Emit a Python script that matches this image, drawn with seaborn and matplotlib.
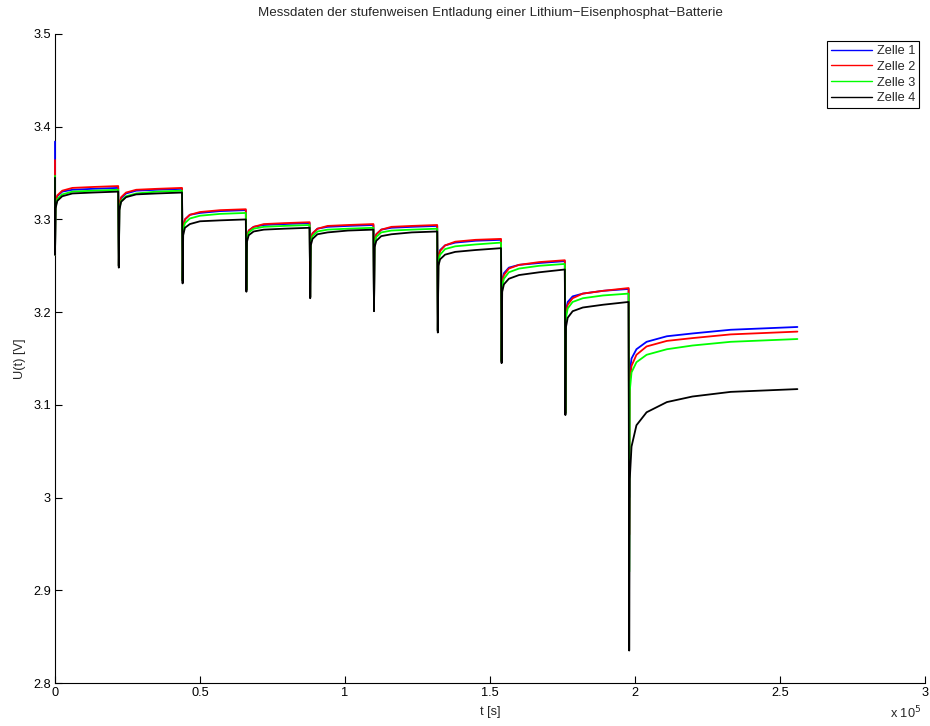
import numpy as np
import pandas as pd
import matplotlib
matplotlib.use('Agg')
import matplotlib.pyplot as plt
from matplotlib.ticker import FuncFormatter
import seaborn as sns

# Stufenstarts und Messzeitpunkte innerhalb einer Stufe (s)
step_starts = [0, 22000, 44000, 66000, 88000, 110000, 132000, 154000, 176000, 198000]
offsets = [0, 200, 800, 2500, 6000, 13000, 21800]
offsets_last = [0, 200, 800, 2500, 6000, 13000, 21800, 35000, 58000]

cells = ['Zelle 1', 'Zelle 2', 'Zelle 3', 'Zelle 4']
colors = ['#0000ff', '#ff0000', '#00ff00', '#000000']

# Startwert bei t = 0
u_start = [3.384, 3.364, 3.347, 3.345]

# Spannungen je Stufe (Einbruch, dann Erholung)
u_zelle1 = [
    [3.262, 3.317, 3.325, 3.330, 3.332, 3.333, 3.334],
    [3.250, 3.315, 3.323, 3.328, 3.331, 3.332, 3.333],
    [3.234, 3.292, 3.300, 3.305, 3.307, 3.309, 3.310],
    [3.224, 3.281, 3.288, 3.292, 3.294, 3.295, 3.296],
    [3.216, 3.278, 3.285, 3.290, 3.292, 3.293, 3.294],
    [3.203, 3.277, 3.284, 3.289, 3.291, 3.292, 3.293],
    [3.180, 3.260, 3.267, 3.272, 3.275, 3.277, 3.278],
    [3.147, 3.234, 3.242, 3.248, 3.251, 3.253, 3.255],
    [3.091, 3.202, 3.211, 3.217, 3.220, 3.223, 3.225],
    [3.000, 3.135, 3.150, 3.160, 3.168, 3.174, 3.177, 3.181, 3.184],
]
u_zelle2 = [
    [3.262, 3.318, 3.326, 3.331, 3.334, 3.335, 3.336],
    [3.250, 3.316, 3.324, 3.329, 3.332, 3.333, 3.334],
    [3.234, 3.292, 3.300, 3.305, 3.308, 3.310, 3.311],
    [3.224, 3.281, 3.288, 3.292, 3.295, 3.296, 3.297],
    [3.216, 3.278, 3.285, 3.290, 3.293, 3.294, 3.295],
    [3.203, 3.277, 3.284, 3.289, 3.292, 3.293, 3.294],
    [3.180, 3.259, 3.266, 3.272, 3.276, 3.278, 3.279],
    [3.147, 3.232, 3.240, 3.247, 3.251, 3.254, 3.256],
    [3.091, 3.198, 3.208, 3.215, 3.220, 3.223, 3.226],
    [2.960, 3.125, 3.142, 3.154, 3.163, 3.169, 3.172, 3.176, 3.179],
]
u_zelle3 = [
    [3.262, 3.314, 3.322, 3.327, 3.330, 3.331, 3.332],
    [3.250, 3.312, 3.320, 3.325, 3.328, 3.330, 3.331],
    [3.234, 3.288, 3.296, 3.301, 3.304, 3.306, 3.307],
    [3.224, 3.279, 3.286, 3.290, 3.292, 3.293, 3.294],
    [3.216, 3.275, 3.282, 3.287, 3.289, 3.290, 3.291],
    [3.203, 3.274, 3.281, 3.286, 3.288, 3.289, 3.290],
    [3.180, 3.255, 3.262, 3.268, 3.271, 3.273, 3.275],
    [3.147, 3.228, 3.236, 3.243, 3.247, 3.250, 3.252],
    [3.091, 3.194, 3.204, 3.211, 3.215, 3.218, 3.220],
    [2.920, 3.115, 3.135, 3.146, 3.154, 3.160, 3.164, 3.168, 3.171],
]
u_zelle4 = [
    [3.262, 3.312, 3.320, 3.325, 3.328, 3.329, 3.330],
    [3.248, 3.310, 3.319, 3.324, 3.327, 3.328, 3.329],
    [3.231, 3.283, 3.291, 3.295, 3.298, 3.299, 3.300],
    [3.222, 3.276, 3.283, 3.287, 3.289, 3.290, 3.291],
    [3.215, 3.272, 3.279, 3.284, 3.286, 3.288, 3.289],
    [3.201, 3.270, 3.277, 3.282, 3.284, 3.286, 3.287],
    [3.178, 3.250, 3.257, 3.262, 3.265, 3.267, 3.269],
    [3.145, 3.222, 3.230, 3.236, 3.240, 3.243, 3.246],
    [3.089, 3.184, 3.194, 3.201, 3.205, 3.208, 3.211],
    [2.835, 3.020, 3.055, 3.078, 3.092, 3.103, 3.109, 3.114, 3.117],
]
u_all = [u_zelle1, u_zelle2, u_zelle3, u_zelle4]

rows = []
for name, u0, segs in zip(cells, u_start, u_all):
    rows.append((name, 0, u0))
    for k, start in enumerate(step_starts):
        offs = offsets_last if k == len(step_starts) - 1 else offsets
        for o, u in zip(offs, segs[k]):
            rows.append((name, start + o, u))
df = pd.DataFrame(rows, columns=['Zelle', 't', 'U'])

sns.set_style('white')
plt.rcParams['font.family'] = ['Liberation Sans', 'DejaVu Sans']
fs = 9.2

fig = plt.figure(figsize=(9.3, 7.26), dpi=100)
ax = fig.add_axes([55 / 930, 1 - 683 / 726, 870 / 930, 649 / 726])

sns.lineplot(data=df, x='t', y='U', hue='Zelle', palette=colors,
             estimator=None, sort=False, linewidth=1.3, ax=ax)
for line in ax.get_lines():
    line.set_zorder(3)
    line.set_clip_on(False)

ax.set_xlim(0, 300000)
ax.set_ylim(2.8, 3.5)
ax.set_xticks([0, 50000, 100000, 150000, 200000, 250000, 300000])
ax.set_yticks([2.8, 2.9, 3.0, 3.1, 3.2, 3.3, 3.4, 3.5])
ax.xaxis.set_major_formatter(FuncFormatter(lambda v, p: '%g' % (v / 1e5)))
ax.yaxis.set_major_formatter(FuncFormatter(lambda v, p: '%g' % round(v, 1)))
ax.tick_params(direction='in', length=5, width=0.8, labelsize=fs,
               bottom=True, left=True, colors='black', pad=3)
for s in ['top', 'right']:
    ax.spines[s].set_visible(False)
for s in ['left', 'bottom']:
    ax.spines[s].set_color('black')
    ax.spines[s].set_linewidth(0.8)
    ax.spines[s].set_zorder(1)

ax.set_title('Messdaten der stufenweisen Entladung einer Lithium\u2212Eisenphosphat\u2212Batterie',
             fontsize=9.6, pad=13)
ax.set_xlabel('t [s]', fontsize=fs, labelpad=5)
ax.set_ylabel('U(t) [V]', fontsize=fs, labelpad=5)
fig.text(921 / 930, 1 - 713 / 726, 'x 10$^5$', fontsize=fs, ha='right', va='center')

leg = ax.legend(loc='upper right', bbox_to_anchor=(0.993, 0.989), fontsize=fs,
                frameon=True, fancybox=False, framealpha=1, edgecolor='black',
                handlelength=3.2, handletextpad=0.4, borderpad=0.3, labelspacing=0.3,
                borderaxespad=0)
leg.get_frame().set_linewidth(0.8)
for line in leg.get_lines():
    line.set_linewidth(1.0)

fig.savefig('out.png', dpi=100)
